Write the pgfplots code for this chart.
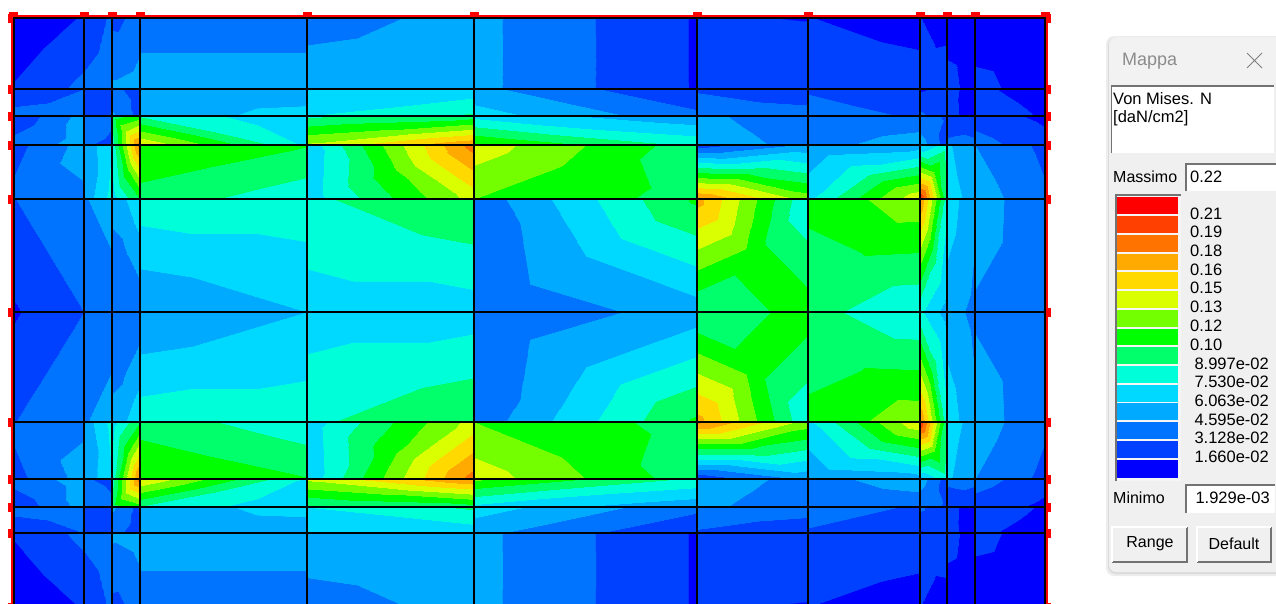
\documentclass[border=0pt]{standalone}
\usepackage{fontspec}
\setmainfont{Liberation Sans}
\usepackage{pgfplots}
\pgfplotsset{compat=1.18}

% bands of the map, from 0 (lowest) to 14 (highest)
\definecolor{c0}{RGB}{0,0,255}
\definecolor{c1}{RGB}{0,64,255}
\definecolor{c2}{RGB}{0,115,255}
\definecolor{c3}{RGB}{0,170,255}
\definecolor{c4}{RGB}{0,217,255}
\definecolor{c5}{RGB}{0,255,217}
\definecolor{c6}{RGB}{0,255,106}
\definecolor{c7}{RGB}{0,255,0}
\definecolor{c8}{RGB}{115,255,0}
\definecolor{c9}{RGB}{217,255,0}
\definecolor{c10}{RGB}{255,217,0}
\definecolor{c11}{RGB}{255,170,0}
\definecolor{c12}{RGB}{255,115,0}
\definecolor{c13}{RGB}{255,64,0}
\definecolor{c14}{RGB}{255,0,0}

\pgfplotsset{colormap={fem}{
  color(0cm)=(c0) color(0.99cm)=(c0)
  color(1cm)=(c1) color(1.99cm)=(c1)
  color(2cm)=(c2) color(2.99cm)=(c2)
  color(3cm)=(c3) color(3.99cm)=(c3)
  color(4cm)=(c4) color(4.99cm)=(c4)
  color(5cm)=(c5) color(5.99cm)=(c5)
  color(6cm)=(c6) color(6.99cm)=(c6)
  color(7cm)=(c7) color(7.99cm)=(c7)
  color(8cm)=(c8) color(8.99cm)=(c8)
  color(9cm)=(c9) color(9.99cm)=(c9)
  color(10cm)=(c10) color(10.99cm)=(c10)
  color(11cm)=(c11) color(11.99cm)=(c11)
  color(12cm)=(c12) color(12.99cm)=(c12)
  color(13cm)=(c13) color(13.99cm)=(c13)
  color(14cm)=(c14) color(15cm)=(c14)
}}

% one plate: x0 x1 y0 y1, corner values tl tr br bl, centre value
\newcommand\cells{}
\newcommand\Q[9]{%
  \edef\xm{\the\numexpr(#1+#2)/2\relax}\edef\ym{\the\numexpr(#3+#4)/2\relax}%
  \xdef\cells{\cells (#1,#3)[#5](#2,#3)[#6](\xm,\ym)[#9] (#2,#3)[#6](#2,#4)[#7](\xm,\ym)[#9] (#2,#4)[#7](#1,#4)[#8](\xm,\ym)[#9] (#1,#4)[#8](#1,#3)[#5](\xm,\ym)[#9] }}

% row 17-89
\Q{12}{84}{16}{89}{0.3}{1.05}{2.3}{1.05}{1.1}
\Q{84}{112}{16}{89}{1.05}{2.2}{2.9}{2.3}{2.0}
\Q{112}{140}{16}{89}{1.7}{2.3}{3.6}{3.2}{2.4}
\Q{140}{307}{16}{89}{2.3}{2.3}{3.7}{3.7}{3.0}
\Q{307}{474}{16}{89}{2.4}{3.4}{3.9}{3.9}{3.4}
\Q{474}{697}{16}{89}{3.3}{0.9}{0.9}{3.3}{2.1}
\Q{697}{808}{16}{89}{1.05}{0.95}{1.6}{1.6}{1.3}
\Q{808}{920}{16}{89}{1.0}{0.3}{1.8}{1.6}{1.3}
\Q{920}{947}{16}{89}{1.0}{0.4}{1.9}{1.9}{1.1}
\Q{947}{975}{16}{89}{0.4}{0.1}{0.5}{1.4}{0.8}
\Q{975}{1047}{16}{89}{0.1}{0.1}{0.3}{1.4}{0.6}
% row 89-116
\Q{12}{84}{89}{116}{1.2}{2.0}{2.9}{2.4}{2.0}
\Q{84}{112}{89}{116}{1.5}{1.7}{1.8}{1.6}{1.4}
\Q{112}{140}{89}{116}{2.3}{1.5}{1.6}{3.2}{2.2}
\Q{140}{307}{89}{116}{3.5}{3.5}{4.3}{3.6}{3.8}
\Q{307}{474}{89}{116}{4.0}{4.4}{6.2}{5.0}{4.7}
\Q{474}{697}{89}{116}{3.3}{1.0}{2.3}{4.5}{2.8}
\Q{697}{808}{89}{116}{1.9}{1.4}{2.4}{2.6}{2.05}
\Q{808}{920}{89}{116}{1.9}{1.2}{1.9}{2.4}{1.9}
\Q{920}{947}{89}{116}{0.9}{1.2}{1.1}{2.2}{1.5}
\Q{947}{975}{89}{116}{1.3}{0.6}{0.4}{1.4}{0.9}
\Q{975}{1047}{89}{116}{1.3}{0.3}{0.85}{1.7}{1.1}
% row 116-145
\Q{12}{84}{116}{145}{1.1}{3.4}{3.4}{2.4}{2.6}
\Q{84}{112}{116}{145}{2.9}{2.4}{1.5}{2.2}{2.5}
\Q{112}{140}{116}{145}{6.5}{7.6}{12.5}{5.5}{9.0}
\Q{140}{307}{116}{145}{5.9}{4.1}{4.9}{10.0}{5.6}
\Q{307}{474}{116}{145}{5.8}{6.5}{12.0}{9.2}{8.2}
\Q{474}{697}{116}{145}{4.7}{3.2}{5.8}{8.2}{5.2}
\Q{697}{808}{116}{145}{3.3}{2.2}{2.5}{3.9}{2.95}
\Q{808}{920}{116}{145}{2.2}{2.3}{3.6}{2.6}{2.7}
\Q{920}{947}{116}{145}{2.3}{1.9}{1.5}{3.5}{2.2}
\Q{947}{975}{116}{145}{1.4}{1.1}{2.3}{2.2}{1.9}
\Q{975}{1047}{116}{145}{1.6}{0.7}{1.4}{2.4}{1.6}
% row 145-199
\Q{12}{84}{145}{199}{1.6}{3.4}{2.8}{2.2}{2.8}
\Q{84}{112}{145}{199}{3.2}{5.0}{5.4}{3.3}{4.0}
\Q{112}{140}{145}{199}{5.5}{12.5}{7.0}{4.5}{7.5}
\Q{140}{307}{145}{199}{7.9}{7.05}{5.3}{6.6}{6.8}
\Q{307}{474}{145}{199}{4.3}{12.5}{9.4}{4.4}{7.7}
\Q{474}{697}{145}{199}{9.6}{6.4}{6.6}{8.0}{7.55}
\Q{697}{808}{145}{199}{1.5}{3.2}{8.6}{12.2}{6.6}
\Q{808}{920}{145}{199}{3.1}{3.5}{9.9}{4.8}{5.6}
\Q{920}{947}{145}{199}{4.0}{5.5}{6.0}{14.0}{8.0}
\Q{947}{975}{145}{199}{4.2}{2.9}{3.5}{4.6}{3.8}
\Q{975}{1047}{145}{199}{3.0}{1.7}{2.1}{3.6}{2.6}
% row 199-312
\Q{12}{84}{199}{312}{1.95}{2.9}{2.0}{0.85}{1.97}
\Q{84}{112}{199}{312}{2.9}{3.6}{2.3}{2.1}{2.6}
\Q{112}{140}{199}{312}{3.2}{4.8}{2.3}{2.4}{2.9}
\Q{140}{307}{199}{312}{5.6}{5.6}{4.0}{3.0}{4.6}
\Q{307}{474}{199}{312}{5.8}{7.0}{4.5}{4.5}{5.4}
\Q{474}{697}{199}{312}{2.3}{7.2}{3.5}{2.0}{4.0}
\Q{697}{808}{199}{312}{11.4}{5.1}{7.5}{6.0}{7.5}
\Q{808}{920}{199}{312}{7.2}{8.7}{5.1}{6.4}{6.98}
\Q{920}{947}{199}{312}{12.0}{5.3}{3.5}{5.2}{6.3}
\Q{947}{975}{199}{312}{4.6}{3.2}{2.7}{3.5}{3.6}
\Q{975}{1047}{199}{312}{3.6}{2.1}{2.1}{2.85}{2.8}
% row 312-422
\Q{12}{84}{312}{422}{0.85}{2.0}{2.9}{1.95}{1.97}
\Q{84}{112}{312}{422}{2.1}{2.3}{3.6}{2.9}{2.6}
\Q{112}{140}{312}{422}{2.4}{2.3}{4.8}{3.2}{2.9}
\Q{140}{307}{312}{422}{3.0}{4.0}{5.6}{5.6}{4.6}
\Q{307}{474}{312}{422}{4.5}{4.5}{7.0}{5.8}{5.4}
\Q{474}{697}{312}{422}{2.0}{3.5}{7.2}{2.3}{4.0}
\Q{697}{808}{312}{422}{6.0}{7.5}{5.1}{11.4}{7.5}
\Q{808}{920}{312}{422}{6.4}{5.1}{8.7}{7.2}{6.98}
\Q{920}{947}{312}{422}{5.2}{3.5}{5.3}{12.0}{6.3}
\Q{947}{975}{312}{422}{3.5}{2.7}{3.2}{4.6}{3.6}
\Q{975}{1047}{312}{422}{2.85}{2.1}{2.1}{3.6}{2.8}
% row 422-479
\Q{12}{84}{422}{479}{2.2}{2.8}{3.4}{1.6}{2.8}
\Q{84}{112}{422}{479}{3.3}{5.4}{5.0}{3.2}{4.0}
\Q{112}{140}{422}{479}{4.5}{7.0}{12.5}{5.5}{7.5}
\Q{140}{307}{422}{479}{6.6}{5.3}{7.05}{7.9}{6.8}
\Q{307}{474}{422}{479}{4.4}{9.4}{12.5}{4.3}{7.7}
\Q{474}{697}{422}{479}{8.0}{6.6}{6.4}{9.6}{7.55}
\Q{697}{808}{422}{479}{12.2}{8.6}{3.2}{1.2}{6.6}
\Q{808}{920}{422}{479}{4.8}{9.9}{3.5}{3.1}{5.6}
\Q{920}{947}{422}{479}{14.0}{6.0}{5.5}{4.0}{8.0}
\Q{947}{975}{422}{479}{4.6}{3.5}{2.9}{4.2}{3.8}
\Q{975}{1047}{422}{479}{3.6}{2.1}{1.7}{3.0}{2.6}
% row 479-507
\Q{12}{84}{479}{507}{2.4}{3.4}{3.4}{1.1}{2.6}
\Q{84}{112}{479}{507}{2.2}{1.5}{2.4}{2.9}{2.5}
\Q{112}{140}{479}{507}{5.5}{12.5}{7.6}{6.5}{9.0}
\Q{140}{307}{479}{507}{10.0}{4.9}{4.1}{5.9}{5.6}
\Q{307}{474}{479}{507}{9.2}{12.0}{6.5}{5.8}{8.2}
\Q{474}{697}{479}{507}{8.2}{5.8}{3.2}{4.7}{5.2}
\Q{697}{808}{479}{507}{3.9}{2.5}{2.2}{3.3}{2.95}
\Q{808}{920}{479}{507}{2.6}{3.6}{2.3}{2.2}{2.7}
\Q{920}{947}{479}{507}{3.5}{1.5}{1.9}{2.3}{2.2}
\Q{947}{975}{479}{507}{2.2}{2.3}{1.1}{1.4}{1.9}
\Q{975}{1047}{479}{507}{2.4}{1.4}{0.7}{1.6}{1.6}
% row 507-533
\Q{12}{84}{507}{533}{2.4}{2.9}{2.0}{1.2}{2.0}
\Q{84}{112}{507}{533}{1.6}{1.8}{1.7}{1.5}{1.4}
\Q{112}{140}{507}{533}{3.2}{1.6}{1.5}{2.3}{2.2}
\Q{140}{307}{507}{533}{3.6}{4.3}{3.5}{3.5}{3.8}
\Q{307}{474}{507}{533}{5.0}{6.2}{4.4}{4.0}{4.7}
\Q{474}{697}{507}{533}{4.5}{2.3}{1.0}{3.3}{2.8}
\Q{697}{808}{507}{533}{2.6}{2.4}{1.4}{1.9}{2.05}
\Q{808}{920}{507}{533}{2.4}{1.9}{1.2}{1.9}{1.9}
\Q{920}{947}{507}{533}{2.2}{1.1}{1.2}{0.9}{1.5}
\Q{947}{975}{507}{533}{1.4}{0.4}{0.6}{1.3}{0.9}
\Q{975}{1047}{507}{533}{1.7}{0.85}{0.3}{1.3}{1.1}
% row 533-607, cut by the lower edge of the picture
\Q{12}{84}{533}{607}{1.05}{2.3}{1.05}{0.3}{1.1}
\Q{84}{112}{533}{607}{2.3}{2.9}{2.2}{1.05}{2.0}
\Q{112}{140}{533}{607}{3.2}{3.6}{2.3}{1.7}{2.4}
\Q{140}{307}{533}{607}{3.7}{3.7}{2.3}{2.3}{3.0}
\Q{307}{474}{533}{607}{3.9}{3.9}{3.4}{2.4}{3.4}
\Q{474}{697}{533}{607}{3.3}{0.9}{0.9}{3.3}{2.1}
\Q{697}{808}{533}{607}{1.6}{1.6}{0.95}{1.05}{1.3}
\Q{808}{920}{533}{607}{1.6}{1.8}{0.3}{1.0}{1.3}
\Q{920}{947}{533}{607}{1.9}{1.9}{0.4}{1.0}{1.1}
\Q{947}{975}{533}{607}{1.4}{0.5}{0.1}{0.4}{0.8}
\Q{975}{1047}{533}{607}{1.4}{0.3}{0.1}{0.1}{0.6}

\begin{document}
\begin{tikzpicture}[x=1pt,y=-1pt]
\useasboundingbox (0,0) rectangle (1276,603);

\begin{axis}[
    at={(12.5pt,-16pt)}, anchor=north west,
    scale only axis, width=1034.5pt, height=591pt,
    xmin=12.5, xmax=1047, ymin=16, ymax=607,
    y dir=reverse,
    axis on top,
    xtick={14,84,112,140,307,474,697,808,920,947,975,1045},
    ytick={18,89,116,145,199,312,422,479,507,533,607},
    xticklabel=\empty, yticklabel=\empty,
    xtick pos=upper, ytick pos=both,
    tick align=outside,
    major tick length=4pt,
    major tick style={red, line width=9pt},
    xmajorgrids, ymajorgrids,
    major grid style={black, line width=1.2pt},
    axis line style={red, line width=2pt},
    colormap name=fem,
    point meta min=0, point meta max=15,
]
\edef\doplot{\noexpand\addplot[patch, patch type=triangle, shader=interp, point meta=explicit] coordinates {\cells};}
\doplot
\end{axis}

% the panel on the right
\fill[black!7, rounded corners=8pt] (1106,36) rectangle (1285,576);
\fill[black!14, rounded corners=8pt] (1108,37) rectangle (1285,574);
\fill[black!6, rounded corners=7pt] (1109,37) rectangle (1290,572);
\fill[white!95!black, rounded corners=7pt] (1110,38) rectangle (1285,84);
\node[anchor=west, inner sep=0pt, text=black!45, font=\fontsize{18}{20}\selectfont] at (1122,61) {Mappa};
\draw[black!50, line width=0.9pt] (1247,53) -- (1262,68) (1262,53) -- (1247,68);

\fill[white] (1111,85) rectangle (1274,153);
\draw[black!55, line width=1.2pt] (1111.6,153) -- (1111.6,86) -- (1274,86);
\node[anchor=north west, align=left, inner sep=0pt, font=\fontsize{16.5}{18}\selectfont] at (1113,92) {Von Mises. N\\{}[daN/cm2]};

\node[anchor=west, inner sep=0pt, font=\fontsize{16}{18}\selectfont] at (1113,177) {Massimo};
\fill[white] (1185,163) rectangle (1276,191);
\draw[black!55, line width=1.2pt] (1186,191) -- (1186,164) -- (1276,164);
\node[anchor=west, inner sep=0pt, font=\fontsize{16.5}{18}\selectfont] at (1190,177) {0.22};

\fill[white!96!black] (1115,194) rectangle (1181,481);
\draw[black!55, line width=1.2pt] (1116,481) -- (1116,195) -- (1181,195);

\begin{axis}[
    at={(1117pt,-197pt)}, anchor=north west,
    scale only axis, width=61pt, height=281pt,
    xmin=0, xmax=1, ymin=0, ymax=15,
    hide axis, clip=false,
]
\addplot[fill=c14, draw=none] coordinates {(0,14.08)(1,14.08)(1,15)(0,15)} --cycle;
\addplot[fill=c13, draw=none] coordinates {(0,13.08)(1,13.08)(1,13.98)(0,13.98)} --cycle;
\addplot[fill=c12, draw=none] coordinates {(0,12.08)(1,12.08)(1,12.98)(0,12.98)} --cycle;
\addplot[fill=c11, draw=none] coordinates {(0,11.08)(1,11.08)(1,11.98)(0,11.98)} --cycle;
\addplot[fill=c10, draw=none] coordinates {(0,10.08)(1,10.08)(1,10.98)(0,10.98)} --cycle;
\addplot[fill=c9, draw=none] coordinates {(0,9.08)(1,9.08)(1,9.98)(0,9.98)} --cycle;
\addplot[fill=c8, draw=none] coordinates {(0,8.08)(1,8.08)(1,8.98)(0,8.98)} --cycle;
\addplot[fill=c7, draw=none] coordinates {(0,7.08)(1,7.08)(1,7.98)(0,7.98)} --cycle;
\addplot[fill=c6, draw=none] coordinates {(0,6.08)(1,6.08)(1,6.98)(0,6.98)} --cycle;
\addplot[fill=c5, draw=none] coordinates {(0,5.08)(1,5.08)(1,5.98)(0,5.98)} --cycle;
\addplot[fill=c4, draw=none] coordinates {(0,4.08)(1,4.08)(1,4.98)(0,4.98)} --cycle;
\addplot[fill=c3, draw=none] coordinates {(0,3.08)(1,3.08)(1,3.98)(0,3.98)} --cycle;
\addplot[fill=c2, draw=none] coordinates {(0,2.08)(1,2.08)(1,2.98)(0,2.98)} --cycle;
\addplot[fill=c1, draw=none] coordinates {(0,1.08)(1,1.08)(1,1.98)(0,1.98)} --cycle;
\addplot[fill=c0, draw=none] coordinates {(0,0)(1,0)(1,0.98)(0,0.98)} --cycle;
\end{axis}

\begin{scope}[every node/.style={inner sep=0pt, font=\fontsize{16.5}{18}\selectfont}]
\node[anchor=west] at (1190,214) {0.21};
\node[anchor=west] at (1190,232) {0.19};
\node[anchor=west] at (1190,251) {0.18};
\node[anchor=west] at (1190,270) {0.16};
\node[anchor=west] at (1190,288) {0.15};
\node[anchor=west] at (1190,307) {0.13};
\node[anchor=west] at (1190,326) {0.12};
\node[anchor=west] at (1190,345) {0.10};
\node[anchor=east] at (1269,364) {8.997e-02};
\node[anchor=east] at (1269,382) {7.530e-02};
\node[anchor=east] at (1269,401) {6.063e-02};
\node[anchor=east] at (1269,420) {4.595e-02};
\node[anchor=east] at (1269,438) {3.128e-02};
\node[anchor=east] at (1269,457) {1.660e-02};
\node[anchor=west, font=\fontsize{16}{18}\selectfont] at (1113,498) {Minimo};
\end{scope}
\fill[white] (1185,484) rectangle (1275,513);
\draw[black!55, line width=1.2pt] (1186,513) -- (1186,485) -- (1275,485);
\node[anchor=east, inner sep=0pt, font=\fontsize{16.5}{18}\selectfont] at (1270,498) {1.929e-03};

\draw[black!55, line width=1.2pt] (1112,562) -- (1187,562) -- (1187,527);
\draw[white, line width=1.2pt] (1112,562) -- (1112,527) -- (1187,527);
\node[inner sep=0pt, font=\fontsize{16}{18}\selectfont] at (1150,544) {Range};
\draw[black!55, line width=1.2pt] (1197,562) -- (1271,562) -- (1271,527);
\draw[white, line width=1.2pt] (1197,562) -- (1197,527) -- (1271,527);
\node[inner sep=0pt, font=\fontsize{16}{18}\selectfont] at (1234,544) {Default};
\end{tikzpicture}
\end{document}
